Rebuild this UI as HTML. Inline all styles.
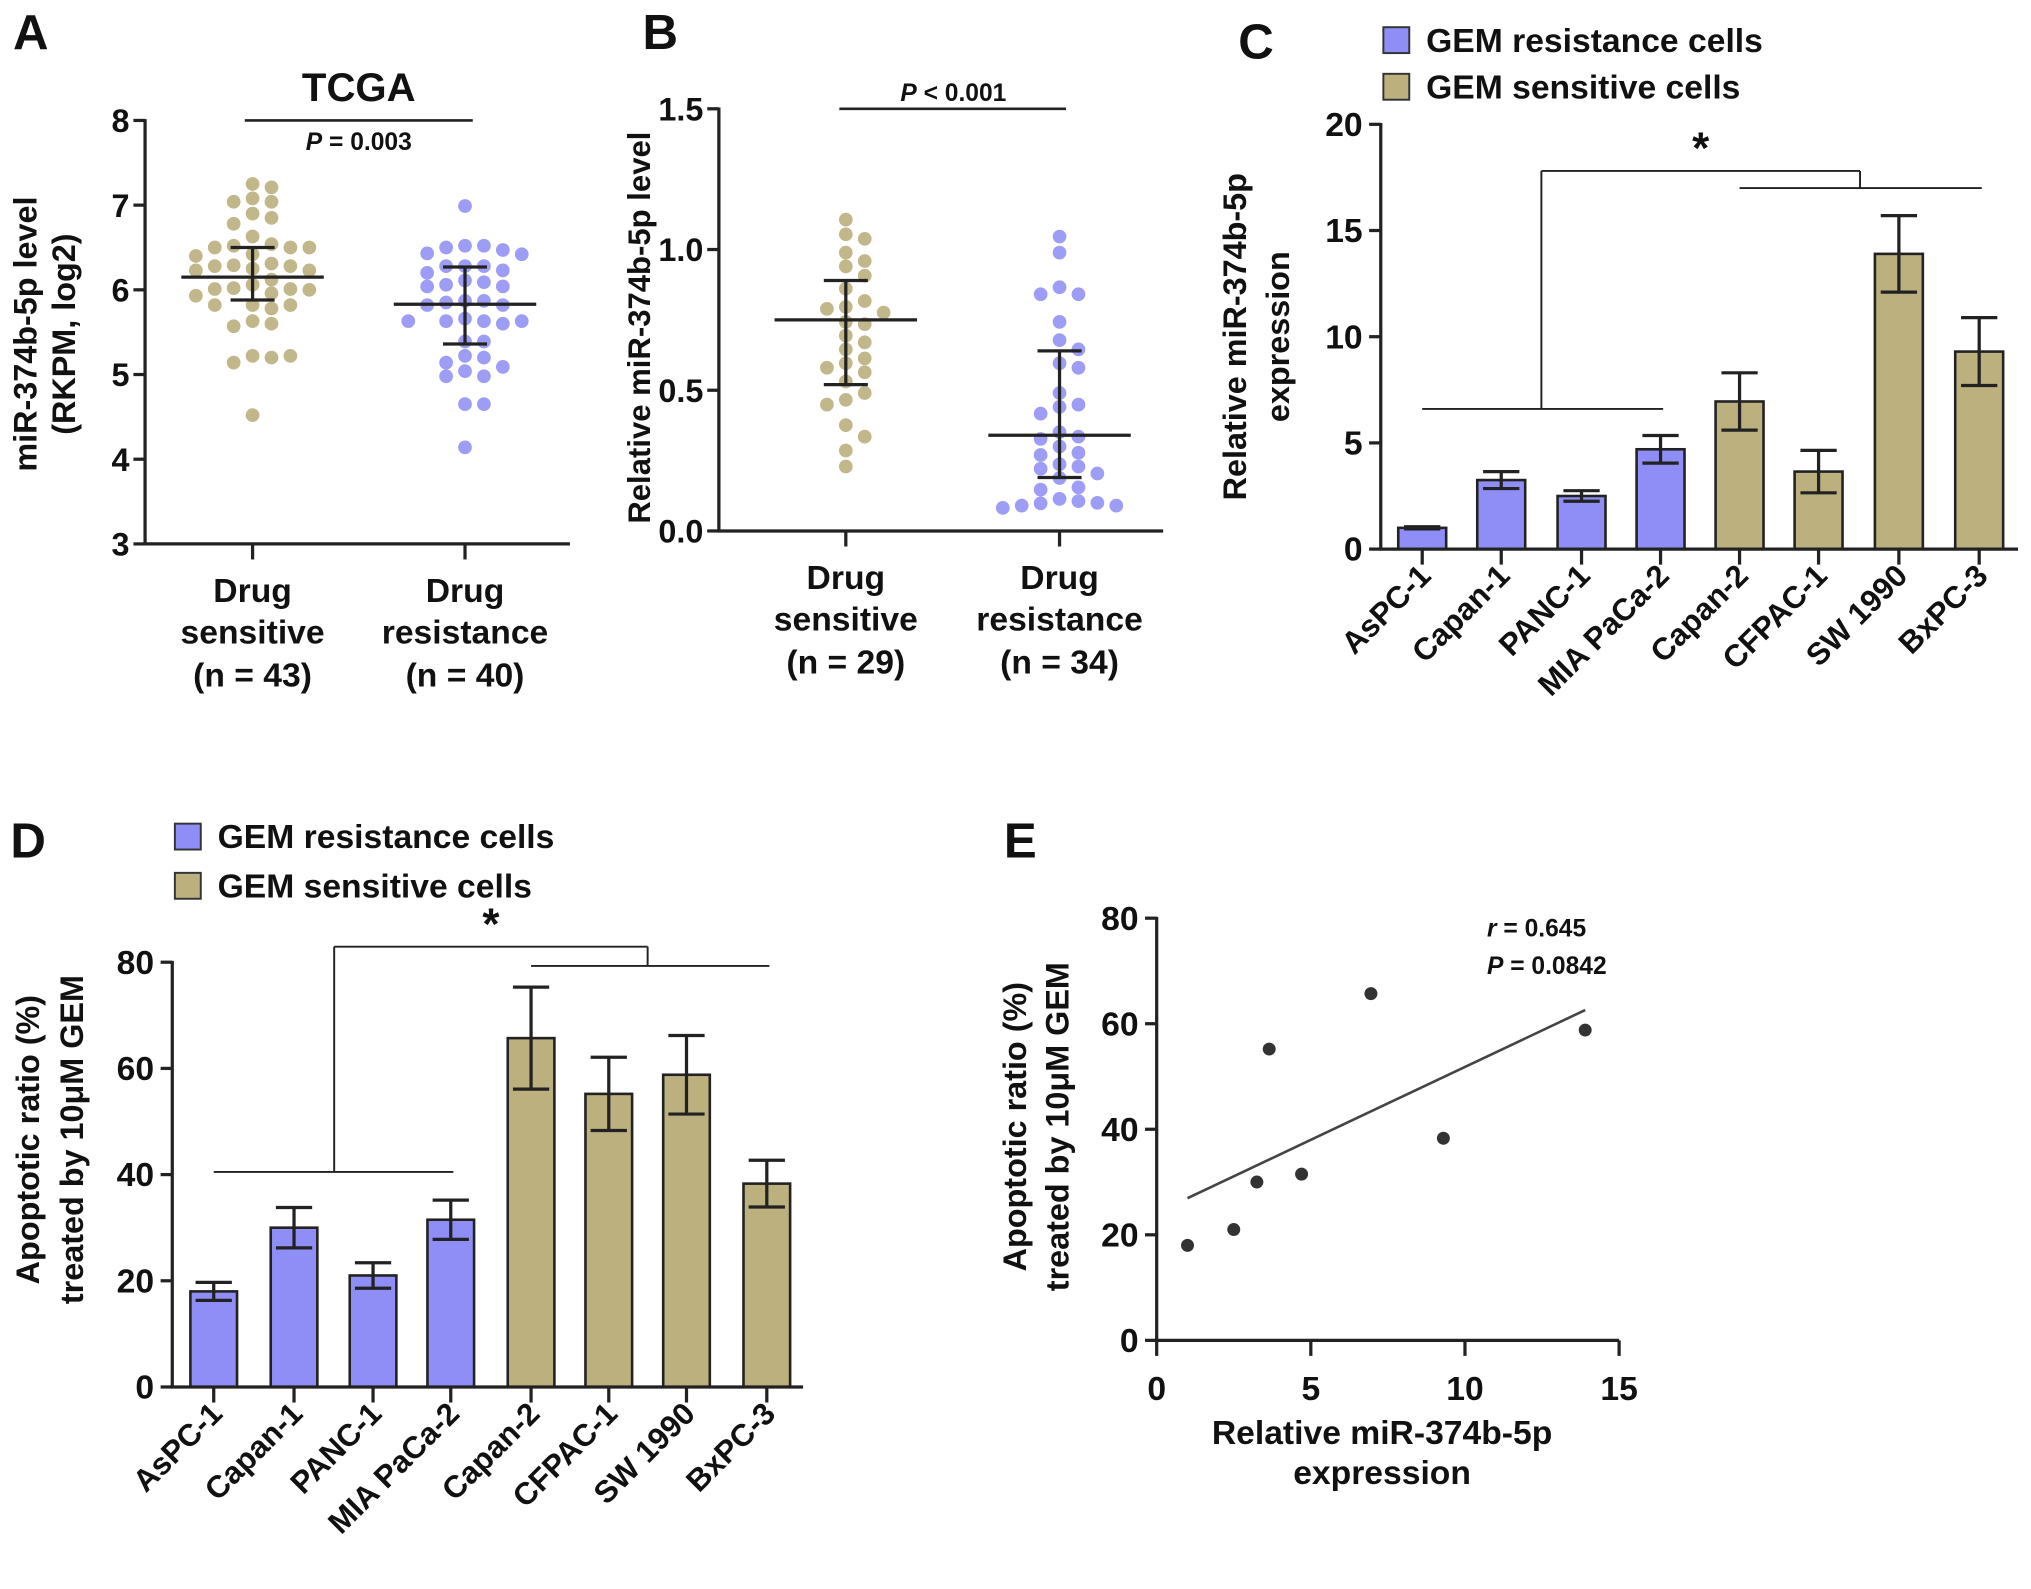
<!DOCTYPE html>
<html><head><meta charset="utf-8"><style>
html,body{margin:0;padding:0;background:#fff;}
svg{display:block;}
text{font-family:"Liberation Sans",Arial,sans-serif;font-weight:bold;fill:#111;}
</style></head><body>
<svg id="fig" xmlns="http://www.w3.org/2000/svg" width="2031" height="1589" viewBox="0 0 1568 1227" preserveAspectRatio="none"></svg>
<script>
// ---- Panel A data ----
const aCategories = ["Drug sensitive", "Drug resistance"];
const aSensitive = [7.21,7.25,7.04,7.04,7.08,6.85,6.9,6.78,6.63,6.54,6.5,6.5,6.52,6.5,6.42,6.28,6.31,6.25,6.23,6.29,6.28,6.23,5.96,6.01,6.06,6.02,6.01,6.0,5.93,5.82,5.82,5.78,5.82,5.6,5.57,5.63,5.22,5.2,5.22,5.14,4.52,6.12,6.4];
const aResistance = [6.99,6.52,6.47,6.43,6.5,6.42,6.52,6.28,6.2,6.23,6.28,6.28,6.04,6.04,6.11,6.06,6.09,5.82,5.85,5.87,5.87,5.82,5.66,5.63,5.63,5.63,5.6,5.63,5.39,5.39,5.22,5.2,5.14,5.09,5.04,4.98,4.98,4.65,4.65,4.14];
const aMean = [6.15, 5.83];
const aSdLow = [5.88, 5.36];
const aSdHigh = [6.5, 6.27];
const aTicks = [3,4,5,6,7,8];
// ---- Panel B data ----
const bSensitive = [1.106,1.054,1.038,0.989,0.959,0.94,0.907,0.861,0.817,0.796,0.789,0.776,0.743,0.735,0.694,0.67,0.645,0.613,0.596,0.564,0.531,0.49,0.466,0.449,0.376,0.335,0.286,0.229,0.58];
const bResistance = [1.046,0.989,0.866,0.841,0.841,0.743,0.678,0.596,0.49,0.449,0.441,0.351,0.335,0.327,0.278,0.27,0.237,0.229,0.221,0.204,0.188,0.155,0.147,0.114,0.106,0.098,0.09,0.09,0.082,0.1,0.58,0.645,0.417,0.3];
const bMean = [0.75, 0.34];
const bSdLow = [0.52, 0.19];
const bSdHigh = [0.89, 0.64];
const bTicks = [0.0,0.5,1.0,1.5];
// ---- Panel C data ----
const cellLines = ["AsPC-1","Capan-1","PANC-1","MIA PaCa-2","Capan-2","CFPAC-1","SW 1990","BxPC-3"];
const cellGroup = ["res","res","res","res","sen","sen","sen","sen"];
const cValues = [1.0,3.25,2.5,4.7,6.95,3.65,13.9,9.3];
const cErr = [0.05,0.4,0.25,0.65,1.35,1.0,1.8,1.6];
const cTicks = [0,5,10,15,20];
// ---- Panel D data ----
const dValues = [18,30,21,31.5,65.7,55.2,58.8,38.3];
const dErr = [1.7,3.8,2.4,3.7,9.6,6.9,7.4,4.4];
const dTicks = [0,20,40,60,80];
// ---- Panel E data ----
const eX = [1.0,3.25,2.5,4.7,6.95,3.65,13.9,9.3];
const eY = [18,30,21,31.5,65.7,55.2,58.8,38.3];
const eXTicks = [0,5,10,15];
const eYTicks = [0,20,40,60,80];

const NS="http://www.w3.org/2000/svg";
const svg=document.getElementById('fig');
const BLUE="#8e8ef6", TAN="#bcb07f", DOTBLUE="#9d9df6", DOTTAN="#c2b78a";
function el(tag,attrs,parent){const e=document.createElementNS(NS,tag);for(const k in attrs)e.setAttribute(k,attrs[k]);(parent||svg).appendChild(e);return e;}
function line(x1,y1,x2,y2,w,p){return el('line',{x1,y1,x2,y2,stroke:'#222','stroke-width':w||2},p);}
function txt(s,x,y,size,anchor,p,extra){const t=el('text',Object.assign({x,y,'font-size':size,'text-anchor':anchor||'middle'},extra||{}),p);t.textContent=s;return t;}
function grp(name){const g=el('g',{});return g;}

// swarm layout (ellipse collision: wider horizontally)
function swarm(vals,yf,cx,rx,ry){const idx=vals.map((v,i)=>i).sort((a,b)=>vals[b]-vals[a]);const placed=[];const out=[];
 idx.forEach(i=>{const y=yf(vals[i]);let off=0;for(let k=0;k<40;k++){const cand=k===0?0:(k%2?1:-1)*Math.ceil(k/2)*rx*2;
  if(placed.every(p=>Math.hypot((p[0]-(cx+cand))/rx,(p[1]-y)/ry)>=2)){off=cand;break;}}
  placed.push([cx+off,y]);out.push({i,x:cx+off,y});});return out;}

function scatterPanel(name,ax,y0,y1,vmin,vmax,ticks,fmt,xEnd,cats,series,colors,means,lows,highs){
 const g=grp(name);
 const yf=v=>y0-(v-vmin)/(vmax-vmin)*(y0-y1);
 line(ax,y1-1,ax,y0+1,2.5,g);line(ax-1,y0,xEnd,y0,2.5,g);
 ticks.forEach(t=>{line(ax-9,yf(t),ax,yf(t),2.5,g);const tl=txt(fmt(t),ax-12,yf(t)+9,25,'end',g);});
 cats.forEach((c,ci)=>{line(c,y0,c,y0+12,2.5,g);
  swarm(series[ci],yf,c,7.3,5.2).forEach(d=>{const ci2=el('circle',{cx:d.x,cy:d.y,r:5.3,fill:colors[ci]},g);});
  line(c-55,yf(means[ci]),c+55,yf(means[ci]),2.5,g);
  line(c,yf(lows[ci]),c,yf(highs[ci]),2.5,g);
  line(c-17,yf(lows[ci]),c+17,yf(lows[ci]),2.5,g);line(c-17,yf(highs[ci]),c+17,yf(highs[ci]),2.5,g);
 });
 return {g,yf};
}

[["A",10,38],["B",496,38],["C",956,45],["D",8,662],["E",775,662]].forEach(l=>{const t=txt(l[0],l[1],l[2],38,'start');});

// Panel A
{const r=scatterPanel('panel-a-scatter',112,420,93,3,8,aTicks,v=>String(v),440,[195,359],[aSensitive,aResistance],[DOTTAN,DOTBLUE],aMean,aSdLow,aSdHigh);
 const g=r.g;
 const t=txt("TCGA",277,78,31,'middle',g);
 line(189,93,365,93,2,g);
 const p=txt("",277,116,19,'middle',g);p.innerHTML='<tspan font-style="italic">P</tspan> = 0.003';
 [["Drug",195,465],["sensitive",195,497],["(n = 43)",195,530],["Drug",359,465],["resistance",359,497],["(n = 40)",359,530]].forEach(a=>{const c=txt(a[0],a[1],a[2],26,'middle',g);});
 const y1=txt("miR-374b-5p level",0,0,25,'middle',g,{transform:'translate(28,258) rotate(-90)'});
 const y2=txt("(RKPM, log2)",0,0,25,'middle',g,{transform:'translate(58,258) rotate(-90)'});
}
// Panel B
{const r=scatterPanel('panel-b-scatter',555,410,84,0,1.5,bTicks,v=>v.toFixed(1),898,[653,818],[bSensitive,bResistance],[DOTTAN,DOTBLUE],bMean,bSdLow,bSdHigh);
 const g=r.g;
 line(648,84,823,84,2,g);
 const p=txt("",736,78,19,'middle',g);p.innerHTML='<tspan font-style="italic">P</tspan> &lt; 0.001';
 [["Drug",653,455],["sensitive",653,487],["(n = 29)",653,520],["Drug",818,455],["resistance",818,487],["(n = 34)",818,520]].forEach(a=>{const c=txt(a[0],a[1],a[2],26,'middle',g);});
 const y1=txt("Relative miR-374b-5p level",0,0,24,'middle',g,{transform:'translate(502,253) rotate(-90)'});
}

function barPanel(name,ax,y0,y1,vmax,ticks,xEnd,centers,vals,errs,bw,labelY,ytitles,tpos,leg,br){
 const g=grp(name);
 const yf=v=>y0-v/vmax*(y0-y1);
 ticks.forEach(t=>{line(ax-9,yf(t),ax,yf(t),2.5,g);const tl=txt(String(t),ax-14,yf(t)+9,26,'end',g);});
 centers.forEach((c,i)=>{
  const b=el('rect',{x:c-bw/2,y:yf(vals[i]),width:bw,height:y0-yf(vals[i]),fill:cellGroup[i]==='res'?BLUE:TAN,stroke:'#222','stroke-width':2},g);
  
  const lo=yf(vals[i]-errs[i]),hi=yf(vals[i]+errs[i]);
  line(c,lo,c,hi,2.5,g);line(c-14,lo,c+14,lo,2.5,g);line(c-14,hi,c+14,hi,2.5,g);
  line(c,y0,c,y0+12,2.5,g);
  const lab=txt(cellLines[i],0,0,24,'end',g,{transform:`translate(${c+8},${labelY}) rotate(-45)`});
 });
 line(ax,y1-1,ax,y0+1,2.5,g);line(ax-1,y0,xEnd,y0,2.5,g);
 ytitles.forEach((s,i)=>{const t=txt(s,0,0,25,'middle',g,{transform:`translate(${tpos[i][0]},${tpos[i][1]}) rotate(-90)`});});
 const lg=grp('legend');g.appendChild(lg);
 [["GEM resistance cells",BLUE],["GEM sensitive cells",TAN]].forEach((e,i)=>{const yy=leg[1]+i*leg[2];
  const s=el('rect',{x:leg[0],y:yy,width:20,height:20,fill:e[1],stroke:'#333','stroke-width':1.5},lg);
  const t=txt(e[0],leg[0]+33,yy+19,26,'start',lg);});
 const lY=yf(br[0]),tY=br[1],rY=yf(br[2]);
 line(centers[0],lY,centers[3]+2,lY,1.5,g);
 line(br[3],lY,br[3],tY,1.5,g);line(br[3],tY,br[4],tY,1.5,g);line(br[4],tY,br[4],rY,1.5,g);
 line(centers[4],rY,centers[7]+2,rY,1.5,g);
 const st=txt("*",br[5],tY-6,34,'middle',g);
 return g;
}
barPanel('panel-c-bar-chart',1066,424,96,20,cTicks,1558,[1098,1159,1221,1282,1343,1404,1466,1528],cValues,cErr,37,446,["Relative miR-374b-5p","expression"],[[962,260],[995,260]],[1068,21,36],[6.6,132,17.0,1190,1436,1313]);
barPanel('panel-d-bar-chart',133,1071,743,80,dTicks,620,[165,227,288,348,410,470,530,592],dValues,dErr,36,1093,["Apoptotic ratio (%)","treated by 10\u03bcM GEM"],[[30,880],[64,880]],[135,636,38],[40.5,731,79.3,258,500,379]);

// Panel E
{const g=grp('panel-e-scatter');
 const x0=893,x1=1250,y0=1035,y1=709;
 const xf=v=>x0+v/15*(x1-x0), yf=v=>y0-v/80*(y0-y1);
 line(x0,y1-1,x0,y0+1,2.5,g);line(x0-1,y0,x1,y0,2.5,g);
 eYTicks.forEach(t=>{line(x0-9,yf(t),x0,yf(t),2.5,g);const tl=txt(String(t),x0-14,yf(t)+9,26,'end',g);});
 eXTicks.forEach(t=>{line(xf(t),y0,xf(t),y0+12,2.5,g);const tl=txt(String(t),xf(t),y0+46,26,'middle',g);});
 const n=eX.length,mx=eX.reduce((a,b)=>a+b)/n,my=eY.reduce((a,b)=>a+b)/n;
 let sxy=0,sxx=0;eX.forEach((x,i)=>{sxy+=(x-mx)*(eY[i]-my);sxx+=(x-mx)**2;});
 const sl=sxy/sxx,ic=my-sl*mx,xa=Math.min(...eX),xb=Math.max(...eX);
 const rl=line(xf(xa),yf(ic+sl*xa),xf(xb),yf(ic+sl*xb),2,g);rl.setAttribute('stroke','#444');
 eX.forEach((x,i)=>{const c=el('circle',{cx:xf(x),cy:yf(eY[i]),r:5,fill:'#333'},g);});
 const r1=txt("",1148,723,19,'start',g);r1.innerHTML='<tspan font-style="italic">r</tspan> = 0.645';
 const p1=txt("",1148,752,19,'start',g);p1.innerHTML='<tspan font-style="italic">P</tspan> = 0.0842';
 const xt=txt("Relative miR-374b-5p",1067,1115,26,'middle',g);
 const xt2=txt("expression",1067,1146,26,'middle',g);
 const y1t=txt("Apoptotic ratio (%)",0,0,25,'middle',g,{transform:'translate(792,870) rotate(-90)'});
 const y2t=txt("treated by 10\u03bcM GEM",0,0,25,'middle',g,{transform:'translate(825,870) rotate(-90)'});
}
</script>
</body></html>
